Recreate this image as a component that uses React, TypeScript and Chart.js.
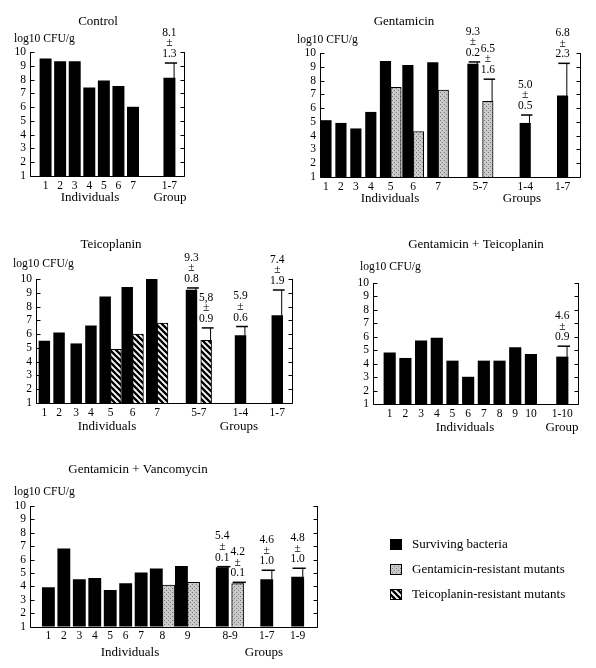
import React, { useEffect, useRef } from 'react';
import { Chart, registerables } from 'chart.js';

Chart.register(...registerables);

const SERIF = '"Liberation Serif", "Times New Roman", "DejaVu Serif", serif';

// ---------- data ----------
const yMin = 1;
const yMax = 10;
const yLabelText = 'log10 CFU/g';

// Control
const controlCategories = ['1', '2', '3', '4', '5', '6', '7', '1-7'];
const controlSurviving = [9.5, 9.3, 9.3, 7.4, 7.9, 7.5, 6.0, 8.1];
const controlSurvivingErr = [null, null, null, null, null, null, null, 1.1];
const controlSurvivingNotes = [null, null, null, null, null, null, null, ['8.1', '±', '1.3']];

// Gentamicin
const gentCategories = ['1', '2', '3', '4', '5', '6', '7', '5-7', '1-4', '1-7'];
const gentSurviving = [5.1, 4.9, 4.5, 5.7, 9.4, 9.1, 9.3, 9.2, 4.9, 6.9];
const gentSurvivingErr = [null, null, null, null, null, null, null, 0.15, 0.6, 2.35];
const gentSurvivingNotes = [null, null, null, null, null, null, null, ['9.3', '±', '0.2'], ['5.0', '±', '0.5'], ['6.8', '±', '2.3']];
const gentResistant = [null, null, null, null, 7.5, 4.3, 7.3, 6.5, null, null];
const gentResistantErr = [null, null, null, null, null, null, null, 1.6, null, null];
const gentResistantNotes = [null, null, null, null, null, null, null, ['6.5', '±', '1.6'], null, null];

// Teicoplanin
const teicCategories = ['1', '2', '3', '4', '5', '6', '7', '5-7', '1-4', '1-7'];
const teicSurviving = [5.5, 6.1, 5.3, 6.6, 8.7, 9.4, 10.0, 9.2, 5.9, 7.35];
const teicSurvivingErr = [null, null, null, null, null, null, null, 0.15, 0.65, 1.85];
const teicSurvivingNotes = [null, null, null, null, null, null, null, ['9.3', '±', '0.8'], ['5.9', '±', '0.6'], ['7.4', '±', '1.9']];
const teicResistant = [null, null, null, null, 4.9, 6.0, 6.8, 5.55, null, null];
const teicResistantErr = [null, null, null, null, null, null, null, 0.9, null, null];
const teicResistantNotes = [null, null, null, null, null, null, null, ['5,8', '±', '0.9'], null, null];

// Gentamicin + Teicoplanin
const gtCategories = ['1', '2', '3', '4', '5', '6', '7', '8', '9', '10', '1-10'];
const gtSurviving = [4.8, 4.4, 5.7, 5.9, 4.2, 3.0, 4.2, 4.2, 5.2, 4.7, 4.5];
const gtSurvivingErr = [null, null, null, null, null, null, null, null, null, null, 0.8];
const gtSurvivingNotes = [null, null, null, null, null, null, null, null, null, null, ['4.6', '±', '0.9']];

// Gentamicin + Vancomycin
const gvCategories = ['1', '2', '3', '4', '5', '6', '7', '8', '9', '8-9', '1-7', '1-9'];
const gvSurviving = [3.9, 6.8, 4.5, 4.6, 3.7, 4.2, 5.0, 5.3, 5.5, 5.4, 4.5, 4.7];
const gvSurvivingErr = [null, null, null, null, null, null, null, null, null, 0.07, 0.7, 0.65];
const gvSurvivingNotes = [null, null, null, null, null, null, null, null, null, ['5.4', '±', '0.1'], ['4.6', '±', '1.0'], ['4.8', '±', '1.0']];
const gvResistant = [null, null, null, null, null, null, null, 4.1, 4.3, 4.2, null, null];
const gvResistantErr = [null, null, null, null, null, null, null, null, null, 0.1, null, null];
const gvResistantNotes = [null, null, null, null, null, null, null, null, null, ['4.2', '±', '0.1'], null, null];

const legendLabels = ['Surviving bacteria', 'Gentamicin-resistant mutants', 'Teicoplanin-resistant mutants'];

// ---------- layout ----------
const W = 596;
const H = 668;
const Y_W = 30;
const X_H = 24;

type Series = { label: string; kind: 'black' | 'grey' | 'hatch'; values: (number | null)[]; err: (number | null)[]; notes: (string[] | null)[] };
type Panel = {
  key: string; title: string; titleX: number; titleY: number; yLabelX: number; yLabelY: number;
  area: { left: number; right: number; top: number; bottom: number };
  slotCount: number; slots: number[]; split?: Record<number, number[]>; barThickness: number; categories: string[];
  axisTitles: { text: string; x: number; y: number }[];
  series: Series[]; legend?: boolean;
};

const panels: Panel[] = [
  {
    key: 'control', title: 'Control', titleX: 98, titleY: 22, yLabelX: 14, yLabelY: 39,
    area: { left: 31, right: 184, top: 52, bottom: 176 },
    slotCount: 21, slots: [2, 4, 6, 8, 10, 12, 14, 19], barThickness: 11.3, categories: controlCategories,
    axisTitles: [{ text: 'Individuals', x: 90, y: 198 }, { text: 'Group', x: 170, y: 198 }],
    series: [{ label: legendLabels[0], kind: 'black', values: controlSurviving, err: controlSurvivingErr, notes: controlSurvivingNotes }],
  },
  {
    key: 'gent', title: 'Gentamicin', titleX: 404, titleY: 22, yLabelX: 297, yLabelY: 40,
    area: { left: 321, right: 580, top: 53, bottom: 177 },
    slotCount: 104, slots: [2, 8, 14, 20, 28, 37, 47, 64, 82, 97], split: { 7: [61, 67] }, barThickness: 10.5, categories: gentCategories,
    axisTitles: [{ text: 'Individuals', x: 390, y: 199 }, { text: 'Groups', x: 522, y: 199 }],
    series: [
      { label: legendLabels[0], kind: 'black', values: gentSurviving, err: gentSurvivingErr, notes: gentSurvivingNotes },
      { label: legendLabels[1], kind: 'grey', values: gentResistant, err: gentResistantErr, notes: gentResistantNotes },
    ],
  },
  {
    key: 'teic', title: 'Teicoplanin', titleX: 111, titleY: 245, yLabelX: 13, yLabelY: 264,
    area: { left: 37, right: 292, top: 279, bottom: 403 },
    slotCount: 104, slots: [3, 9, 16, 22, 30, 39, 49, 66, 83, 98], split: { 7: [63, 69] }, barThickness: 10.8, categories: teicCategories,
    axisTitles: [{ text: 'Individuals', x: 107, y: 427 }, { text: 'Groups', x: 239, y: 427 }],
    series: [
      { label: legendLabels[0], kind: 'black', values: teicSurviving, err: teicSurvivingErr, notes: teicSurvivingNotes },
      { label: legendLabels[2], kind: 'hatch', values: teicResistant, err: teicResistantErr, notes: teicResistantNotes },
    ],
  },
  {
    key: 'gt', title: 'Gentamicin + Teicoplanin', titleX: 476, titleY: 245, yLabelX: 360, yLabelY: 267,
    area: { left: 374, right: 578, top: 283, bottom: 404 },
    slotCount: 26, slots: [2, 4, 6, 8, 10, 12, 14, 16, 18, 20, 24], barThickness: 11.5, categories: gtCategories,
    axisTitles: [{ text: 'Individuals', x: 465, y: 428 }, { text: 'Group', x: 562, y: 428 }],
    series: [{ label: legendLabels[0], kind: 'black', values: gtSurviving, err: gtSurvivingErr, notes: gtSurvivingNotes }],
  },
  {
    key: 'gv', title: 'Gentamicin + Vancomycin', titleX: 138, titleY: 470, yLabelX: 14, yLabelY: 492,
    area: { left: 31, right: 317, top: 506, bottom: 626.5 },
    slotCount: 148, slots: [9, 17, 25, 33, 41, 49, 57, 68, 81, 103, 122, 138], split: { 9: [99, 107] }, barThickness: 12.2, categories: gvCategories,
    axisTitles: [{ text: 'Individuals', x: 130, y: 653 }, { text: 'Groups', x: 264, y: 653 }],
    series: [
      { label: legendLabels[0], kind: 'black', values: gvSurviving, err: gvSurvivingErr, notes: gvSurvivingNotes },
      { label: legendLabels[1], kind: 'grey', values: gvResistant, err: gvResistantErr, notes: gvResistantNotes },
    ],
    legend: true,
  },
];

const legendItems = [
  { text: legendLabels[0], kind: 'black' as const, x: 390, y: 539 },
  { text: legendLabels[1], kind: 'grey' as const, x: 390, y: 564 },
  { text: legendLabels[2], kind: 'hatch' as const, x: 390, y: 589 },
];

function slotFor(panel: Panel, seriesIndex: number, i: number) {
  const sp = panel.split && panel.split[i];
  return sp ? sp[Math.min(seriesIndex, sp.length - 1)] : panel.slots[i];
}

// ---------- fills ----------
function makeFills(ctx: CanvasRenderingContext2D) {
  const g = document.createElement('canvas');
  g.width = 4; g.height = 4;
  const gc = g.getContext('2d')!;
  gc.fillStyle = '#c9c9c9'; gc.fillRect(0, 0, 4, 4);
  gc.fillStyle = '#7a7a7a'; gc.fillRect(0, 0, 1, 1); gc.fillRect(2, 2, 1, 1);
  const h = document.createElement('canvas');
  h.width = 6; h.height = 6;
  const hc = h.getContext('2d')!;
  hc.fillStyle = '#fff'; hc.fillRect(0, 0, 6, 6);
  hc.strokeStyle = '#000'; hc.lineWidth = 2.3;
  [-6, 0, 6].forEach((c) => { hc.beginPath(); hc.moveTo(-1, c - 1); hc.lineTo(7, c + 7); hc.stroke(); });
  return {
    black: '#000' as any,
    grey: ctx.createPattern(g, 'repeat') as any,
    hatch: ctx.createPattern(h, 'repeat') as any,
  };
}

function line(ctx: CanvasRenderingContext2D, x1: number, y1: number, x2: number, y2: number) {
  ctx.beginPath(); ctx.moveTo(x1, y1); ctx.lineTo(x2, y2); ctx.stroke();
}

function makeDecor(panel: Panel, fills: any) {
  return {
    id: 'panelDecor',
    afterDatasetsDraw(chart: any) {
      const ctx: CanvasRenderingContext2D = chart.ctx;
      const ys = chart.scales.y;
      const { left, right, top, bottom } = chart.chartArea;
      ctx.save();
      ctx.strokeStyle = '#000';
      ctx.lineWidth = 1;
      const xl = Math.round(left) - 0.5;
      const xr = Math.round(right) + 0.5;
      const yb = Math.round(bottom) + 0.5;
      const yt = Math.round(top);
      line(ctx, xl, yt, xl, yb);
      line(ctx, xr, yt, xr, yb);
      line(ctx, xl, yb, xr, yb);
      for (let v = yMin; v <= yMax; v++) {
        const py = Math.round(ys.getPixelForValue(v)) + 0.5;
        line(ctx, xl, py, xl + 4, py);
        line(ctx, xr, py, xr - 4, py);
      }
      // error bars and notes
      panel.series.forEach((s, di) => {
        const meta = chart.getDatasetMeta(di);
        s.values.forEach((v, i) => {
          if (v == null) return;
          const el = meta.data[slotFor(panel, di, i)];
          if (!el) return;
          const { x, width } = el.getProps(['x', 'width'], true);
          const yTop = ys.getPixelForValue(v);
          let capY = yTop;
          const e = s.err[i];
          if (e != null) {
            capY = ys.getPixelForValue(v + e);
            const sx = x + width / 2 - 1;
            ctx.lineWidth = 1;
            line(ctx, sx, yTop, sx, capY);
            ctx.lineWidth = 1.5;
            line(ctx, x - width / 2 + 1, capY, x + width / 2 + 2, capY);
          }
          const notes = s.notes[i];
          if (notes) {
            ctx.fillStyle = '#000';
            ctx.font = `11.5px ${SERIF}`;
            ctx.textAlign = 'center';
            ctx.textBaseline = 'middle';
            notes.forEach((t, k) => {
              ctx.fillText(t, x, capY - 9 - (notes.length - 1 - k) * 10.7);
            });
          }
        });
      });
      ctx.restore();
    },
    afterDraw(chart: any) {
      const ctx: CanvasRenderingContext2D = chart.ctx;
      ctx.save();
      ctx.fillStyle = '#000';
      ctx.textBaseline = 'middle';
      ctx.textAlign = 'center';
      ctx.font = `13px ${SERIF}`;
      ctx.fillText(panel.title, panel.titleX, panel.titleY);
      panel.axisTitles.forEach((a) => ctx.fillText(a.text, a.x, a.y));
      ctx.textAlign = 'left';
      ctx.font = `11.6px ${SERIF}`;
      ctx.fillText(yLabelText, panel.yLabelX, panel.yLabelY);
      if (panel.legend) {
        legendItems.forEach((it) => {
          ctx.fillStyle = fills[it.kind];
          ctx.fillRect(it.x, it.y, 12, 11);
          if (it.kind !== 'black') {
            ctx.strokeStyle = '#000';
            ctx.lineWidth = 1;
            ctx.strokeRect(it.x + 0.5, it.y + 0.5, 11, 10);
          }
          ctx.fillStyle = '#000';
          ctx.font = `13px ${SERIF}`;
          ctx.fillText(it.text, it.x + 22, it.y + 5.5);
        });
      }
      ctx.restore();
    },
  };
}

function PanelChart({ panel }: { panel: Panel }) {
  const ref = useRef<HTMLCanvasElement>(null);
  useEffect(() => {
    const canvas = ref.current!;
    const ctx = canvas.getContext('2d')!;
    const fills = makeFills(ctx);
    const n = panel.slotCount + 1;
    const labels: string[] = new Array(n).fill('');
    panel.slots.forEach((s, i) => { labels[s] = panel.categories[i]; });
    const datasets = panel.series.map((s, di) => {
      const data: (number | null)[] = new Array(n).fill(null);
      s.values.forEach((v, i) => { if (v != null) data[slotFor(panel, di, i)] = v; });
      return {
        label: s.label,
        data,
        backgroundColor: fills[s.kind],
        borderColor: '#000',
        borderWidth: s.kind === 'black' ? 0 : 1,
        barThickness: panel.barThickness,
        skipNull: true,
        grouped: true,
      };
    });
    const tickFont = { family: SERIF, size: 11.5 };
    const chart = new Chart(canvas, {
      type: 'bar',
      data: { labels, datasets: datasets as any },
      options: {
        responsive: false,
        animation: false,
        devicePixelRatio: 1,
        layout: {
          padding: {
            left: panel.area.left - Y_W,
            top: panel.area.top,
            right: W - panel.area.right,
            bottom: H - panel.area.bottom - X_H,
          },
        },
        plugins: { legend: { display: false }, tooltip: { enabled: false }, title: { display: false } },
        scales: {
          x: {
            type: 'category',
            offset: false,
            grid: { display: false, drawTicks: false, tickLength: 0 },
            border: { display: false },
            ticks: { autoSkip: false, maxRotation: 0, minRotation: 0, padding: 3, font: tickFont, color: '#000' },
            afterFit: (s: any) => { s.height = X_H; },
          },
          y: {
            type: 'linear',
            min: yMin,
            max: yMax,
            grid: { display: false, drawTicks: false, tickLength: 0 },
            border: { display: false },
            ticks: { stepSize: 1, autoSkip: false, padding: 5, font: tickFont, color: '#000' },
            afterFit: (s: any) => { s.width = Y_W; },
          },
        },
      } as any,
      plugins: [makeDecor(panel, fills) as any],
    });
    return () => chart.destroy();
  }, [panel]);
  return <canvas ref={ref} width={W} height={H} style={{ position: 'absolute', left: 0, top: 0, display: 'block' }} />;
}

export default function App() {
  return (
    <div style={{ position: 'absolute', left: 0, top: 0, width: W, height: H, background: '#fff', overflow: 'hidden' }}>
      {panels.map((p) => <PanelChart key={p.key} panel={p} />)}
    </div>
  );
}
